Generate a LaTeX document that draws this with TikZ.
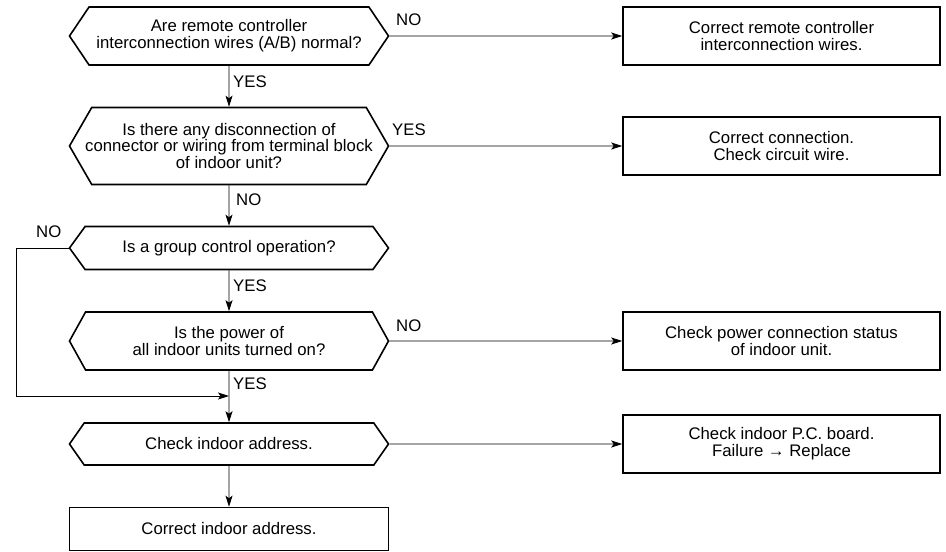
\documentclass[tikz,border=0pt]{standalone}
\usepackage{fontspec}
\setmainfont{Liberation Sans}
\usetikzlibrary{arrows.meta,shapes.symbols}
\begin{document}
\begin{tikzpicture}
        [x=1pt,y=-1pt,
        every node/.style={font=\fontsize{16.75}{16.9}\selectfont,align=center},
        query/.style={signal,signal to=west and east,draw,line width=1.6pt,minimum width=319pt,inner xsep=-16pt,inner ysep=0pt},
        action/.style={rectangle,draw,line width=1.6pt,minimum width=317pt,minimum height=58pt,inner sep=0pt},
        flow/.style={-{Stealth[length=11pt,width=7pt,inset=2.5pt]},line width=0.8pt},
        answer/.style={anchor=west,inner sep=0pt}]
        \useasboundingbox (0,0) rectangle (946,552);
        \node[query,signal pointer angle=112,minimum height=58pt] (wires) at (229,36) {Are remote controller\\interconnection wires (A/B) normal?};
        \node[query,signal pointer angle=120,minimum height=77pt] (discon) at (229,146) {Is there any disconnection of\\connector or wiring from terminal block\\of indoor unit?};
        \node[query,signal pointer angle=108,minimum height=43pt] (group) at (229,248) {Is a group control operation?};
        \node[query,signal pointer angle=122,minimum height=58pt] (power) at (229,341) {Is the power of\\all indoor units turned on?};
        \node[query,signal pointer angle=110,minimum height=42pt] (address) at (229,444) {Check indoor address.};
        \node[action,minimum width=319pt,minimum height=43pt] (fixaddr) at (229,529) {Correct indoor address.};
        \node[action] (fixwires) at (781.5,36) {Correct remote controller\\interconnection wires.};
        \node[action] (fixconn) at (781.5,146) {Correct connection.\\Check circuit wire.};
        \node[action] (fixpower) at (781.5,341) {Check power connection status\\of indoor unit.};
        \node[action] (board) at (781.5,444) {Check indoor P.C. board.\\Failure → Replace};
        \coordinate (merge) at (229,396);
        \coordinate (bend) at (16.5,396);
        \draw[flow] (wires) -- (discon);
        \draw[flow] (discon) -- (group);
        \draw[flow] (group) -- (power);
        \draw[flow] (power) -- (address);
        \draw[flow] (address) -- (fixaddr);
        \draw[flow] (wires) -- (fixwires);
        \draw[flow] (discon) -- (fixconn);
        \draw[flow] (power) -- (fixpower);
        \draw[flow] (address) -- (board);
        \draw[flow] (group.west) -- (group.west -| bend) -- (bend) -- (merge);
        \node[answer] (no1) at (396,20) {NO};
        \node[answer] (yes1) at (233,82) {YES};
        \node[answer] (yes2) at (392,130) {YES};
        \node[answer] (no2) at (236,200) {NO};
        \node[answer] (no3) at (36,232) {NO};
        \node[answer] (yes3) at (233,286) {YES};
        \node[answer] (no4) at (396,326) {NO};
        \node[answer] (yes4) at (233,384) {YES};
        \end{tikzpicture}
\end{document}
